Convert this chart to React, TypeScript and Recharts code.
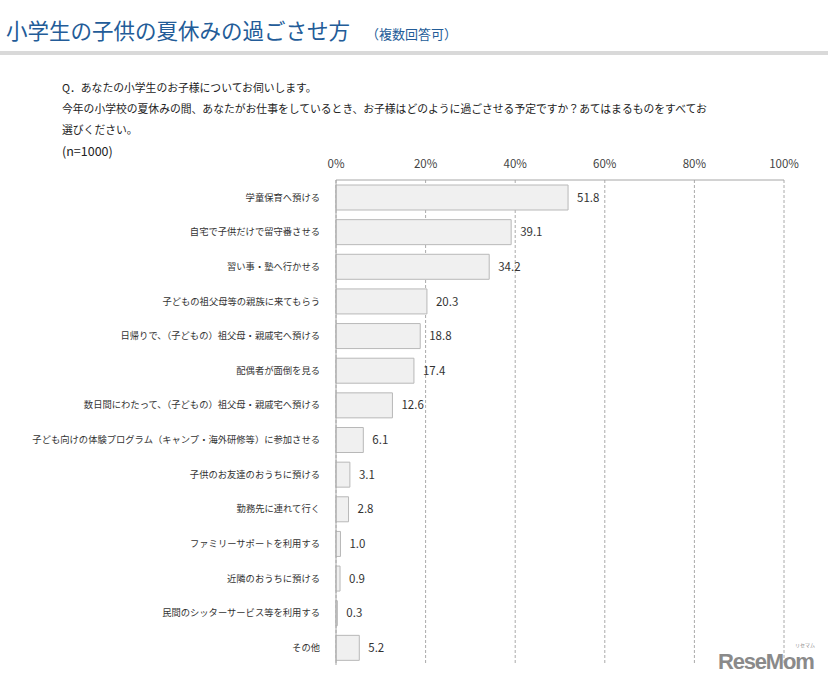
import React from 'react';
import { BarChart, Bar, XAxis, YAxis, CartesianGrid, LabelList } from 'recharts';

const categories = [
  '学童保育へ預ける',
  '自宅で子供だけで留守番させる',
  '習い事・塾へ行かせる',
  '子どもの祖父母等の親族に来てもらう',
  '日帰りで、（子どもの）祖父母・親戚宅へ預ける',
  '配偶者が面倒を見る',
  '数日間にわたって、（子どもの）祖父母・親戚宅へ預ける',
  '子ども向けの体験プログラム（キャンプ・海外研修等）に参加させる',
  '子供のお友達のおうちに預ける',
  '勤務先に連れて行く',
  'ファミリーサポートを利用する',
  '近隣のおうちに預ける',
  '民間のシッターサービス等を利用する',
  'その他',
];
const values = [51.8, 39.1, 34.2, 20.3, 18.8, 17.4, 12.6, 6.1, 3.1, 2.8, 1.0, 0.9, 0.3, 5.2];
const xTicks = [0, 20, 40, 60, 80, 100];
const boundaryTicks = [1, 2, 3, 4, 5, 6, 7, 8, 9, 10, 11, 12, 13, 14];

const data = categories.map((name, i) => ({ name, value: values[i] }));

const FONT = '"Noto Sans CJK JP", "Noto Sans", sans-serif';

export default function App() {
  return (
    <div style={{ position: 'fixed', left: 0, top: 0, width: 828, height: 686, background: '#fff', fontFamily: FONT, overflow: 'hidden' }}>
      <div style={{ position: 'absolute', left: 6, top: 14, whiteSpace: 'nowrap', color: '#235c98' }}>
        <span style={{ fontSize: 21.5, letterSpacing: 0 }}>小学生の子供の夏休みの過ごさせ方</span>
        <span style={{ fontSize: 13, marginLeft: 16 }}>（複数回答可）</span>
      </div>
      <div style={{ position: 'absolute', left: 0, top: 51, width: 828, height: 4, background: '#d9d9d9' }} />
      <div style={{ position: 'absolute', left: 62, top: 77, fontSize: 10.8, color: '#222', lineHeight: '21px', whiteSpace: 'nowrap' }}>
        <div>Q．あなたの小学生のお子様についてお伺いします。</div>
        <div>今年の小学校の夏休みの間、あなたがお仕事をしているとき、お子様はどのように過ごさせる予定ですか？あてはまるものをすべてお</div>
        <div>選びください。</div>
        <div style={{ fontSize: 12.5, lineHeight: '21px' }}>(n=1000)</div>
      </div>
      <div style={{ position: 'absolute', left: 0, top: 150 }}>
        <BarChart
          width={828}
          height={520}
          data={data}
          layout="vertical"
          margin={{ top: 0, right: 44, bottom: 5, left: 0 }}
          barCategoryGap={0}
        >
          <CartesianGrid horizontal={false} vertical={true} stroke="#aaaaaa" strokeDasharray="3 2" xAxisId="x" yAxisId="cat" />
          <XAxis
            xAxisId="x"
            type="number"
            orientation="top"
            domain={[0, 100]}
            ticks={xTicks}
            tickFormatter={(v) => `${v}%`}
            height={30}
            tickLine={false}
            tickSize={0}
            tickMargin={12}
            axisLine={{ stroke: '#a6a6a6' }}
            tick={{ fontSize: 11.5, fill: '#444', fontFamily: FONT }}
          />
          <YAxis
            yAxisId="cat"
            type="category"
            dataKey="name"
            width={336}
            tickLine={false}
            tickMargin={10}
            axisLine={{ stroke: '#a6a6a6' }}
            tick={{ fontSize: 9.3, fill: '#333', fontFamily: FONT }}
            interval={0}
          />
          <YAxis
            yAxisId="bd"
            type="number"
            domain={[0, 14]}
            reversed
            ticks={boundaryTicks}
            mirror
            tick={false}
            tickSize={4}
            tickLine={{ stroke: '#a6a6a6' }}
            axisLine={false}
          />
          <Bar
            dataKey="value"
            xAxisId="x"
            yAxisId="cat"
            barSize={25}
            fill="#f0f0f0"
            stroke="#b8b8b8"
            strokeWidth={1}
            isAnimationActive={false}
          >
            <LabelList
              dataKey="value"
              position="right"
              offset={9}
              formatter={(v: number) => v.toFixed(1)}
              style={{ fontSize: 11.5, fill: '#333', fontFamily: FONT }}
            />
          </Bar>
        </BarChart>
      </div>
      <div style={{ position: 'absolute', left: 718, top: 649, fontSize: 22, fontWeight: 'bold', color: '#8a8a8a', fontFamily: '"Liberation Sans", Arial, sans-serif', letterSpacing: -1.2, lineHeight: '26px', whiteSpace: 'nowrap' }}>
        ReseMom
      </div>
      <div style={{ position: 'absolute', left: 795, top: 642, fontSize: 5, lineHeight: '6px', color: '#8a8a8a', whiteSpace: 'nowrap' }}>リセマム</div>
    </div>
  );
}
